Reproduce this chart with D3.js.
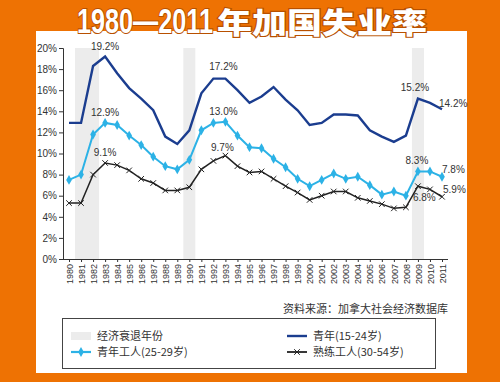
<!DOCTYPE html>
<html><head><meta charset="utf-8">
<script src="https://cdn.jsdelivr.net/npm/d3@7/dist/d3.min.js"></script>
<style>body{margin:0;background:#ee7203;}svg{display:block;}</style>
</head><body>
<svg id="c" width="500" height="382"></svg>
<script>
const years = d3.range(1980, 2012);
const youth = [12.9,12.9,18.3,19.2,17.6,16.2,15.2,14.1,11.6,10.9,12.2,15.7,17.1,17.1,16.0,14.8,15.4,16.3,15.1,14.1,12.7,12.9,13.7,13.7,13.6,12.2,11.6,11.1,11.7,15.2,14.8,14.2];
const young = [7.5,8.0,11.8,12.9,12.7,11.7,10.8,9.7,8.8,8.5,9.4,12.2,12.9,13.0,11.7,10.6,10.5,9.5,8.7,7.6,6.9,7.5,8.1,7.6,7.8,7.0,6.1,6.4,6.0,8.3,8.3,7.8];
const experienced = [5.3,5.3,8.0,9.1,8.9,8.4,7.6,7.2,6.5,6.5,6.8,8.5,9.3,9.8,8.8,8.2,8.3,7.6,6.9,6.3,5.6,6.0,6.4,6.4,5.8,5.5,5.2,4.8,4.9,6.9,6.6,5.9];
const recessions = [[1980.5,1982.5],[1989.5,1990.5],[2008.5,2009.5]];
const yTicks = [0,2,4,6,8,10,12,14,16,18,20];
const titleNum = "1980—2011";
const titleCjk = "年加国失业率";
const source = "资料来源：加拿大社会经济数据库";
const legendItems = ["经济衰退年份","青年(15-24岁)","青年工人(25-29岁)","熟练工人(30-54岁)"];
const annotations = [
  {year:1983, v:19.2, text:"19.2%", dx:0, dy:-6, anchor:"middle"},
  {year:1983, v:12.9, text:"12.9%", dx:0, dy:-7, anchor:"middle"},
  {year:1983, v:9.1, text:"9.1%", dx:0, dy:-7, anchor:"middle"},
  {year:1993, v:17.2, text:"17.2%", dx:-2, dy:-8, anchor:"middle"},
  {year:1993, v:13.0, text:"13.0%", dx:-2, dy:-7, anchor:"middle"},
  {year:1993, v:9.8, text:"9.7%", dx:-3, dy:-5, anchor:"middle"},
  {year:2009, v:15.2, text:"15.2%", dx:-3, dy:-8, anchor:"middle"},
  {year:2011, v:14.2, text:"14.2%", dx:-3, dy:-2, anchor:"start"},
  {year:2009, v:8.3, text:"8.3%", dx:-1, dy:-7, anchor:"middle"},
  {year:2011, v:7.8, text:"7.8%", dx:0, dy:-4, anchor:"start"},
  {year:2011, v:5.9, text:"5.9%", dx:1, dy:-4, anchor:"start"},
  {year:2009, v:6.8, text:"6.8%", dx:-5, dy:14, anchor:"start"}
];

const svg = d3.select("#c");
svg.append("rect").attr("width",500).attr("height",382).attr("fill","#ee7203");
svg.append("rect").attr("x",36).attr("y",31).attr("width",431).attr("height",342).attr("fill","#fff");

function fitText(str, x0, yb, w, fam, weight, size){
  const t = svg.append("text").attr("x",0).attr("y",0)
    .attr("font-family",fam).attr("font-weight",weight).attr("font-size",size)
    .attr("fill","#fff").attr("stroke","#b85000").attr("stroke-width",2.2)
    .attr("paint-order","stroke").text(str);
  const nat = t.node().getComputedTextLength();
  t.attr("transform",`translate(${x0},${yb}) scale(${w/nat},1)`);
}
fitText(titleNum, 77, 32.5, 136, "'Liberation Sans Narrow', 'Liberation Sans', sans-serif", 700, 35);
fitText(titleCjk, 217, 33.5, 210, "'Noto Sans CJK SC', sans-serif", 900, 29);

const x = d3.scaleLinear().domain([1980,2011]).range([69,442]);
const y = d3.scaleLinear().domain([0,20]).range([259,48]);

svg.selectAll("rect.rec").data(recessions).join("rect").attr("class","rec")
  .attr("x",d=>x(d[0])).attr("width",d=>x(d[1])-x(d[0]))
  .attr("y",y(20)).attr("height",y(0)-y(20)).attr("fill","#ececec");

const font = "'Liberation Sans', Arial, sans-serif";
const ya = svg.append("g").attr("transform","translate(63,0)")
  .call(d3.axisLeft(y).tickValues(yTicks).tickFormat(d=>d+"%").tickSize(4).tickPadding(2));
ya.select(".domain").attr("stroke","#333");
ya.selectAll("line").attr("stroke","#333");
ya.selectAll("text").attr("font-family",font).attr("font-size",10).attr("fill","#333");

const xa = svg.append("g").attr("transform","translate(0,259)")
  .call(d3.axisBottom(x).tickValues(years).tickFormat(d=>String(d)).tickSize(3).tickSizeOuter(0));
xa.select(".domain").attr("d","M63,0.5H448").attr("stroke","#333");
xa.selectAll("line").attr("stroke","#333");
xa.selectAll("text").attr("font-family",font).attr("font-size",9).attr("fill","#333")
  .attr("transform","rotate(-90)").attr("text-anchor","end").attr("dy","0.35em").attr("x",-5).attr("y",0);

const line = d3.line().x((d,i)=>x(years[i])).y(d=>y(d));
svg.append("path").datum(youth).attr("d",line).attr("fill","none").attr("stroke","#1b3d8f").attr("stroke-width",2.4);
svg.append("path").datum(young).attr("d",line).attr("fill","none").attr("stroke","#2cb2e6").attr("stroke-width",2);
svg.append("path").datum(experienced).attr("d",line).attr("fill","none").attr("stroke","#222").attr("stroke-width",1.5);

const diamond = d3.symbol().type(d3.symbolDiamond).size(28);
svg.selectAll("path.dm").data(young).join("path").attr("class","dm")
  .attr("transform",(d,i)=>`translate(${x(years[i])},${y(d)})`).attr("d",diamond()).attr("fill","#2cb2e6");
const cross = d3.symbol().type(d3.symbolTimes).size(22);
svg.selectAll("path.xm").data(experienced).join("path").attr("class","xm")
  .attr("transform",(d,i)=>`translate(${x(years[i])},${y(d)})`).attr("d",cross()).attr("fill","none").attr("stroke","#222").attr("stroke-width",1);

svg.selectAll("text.ann").data(annotations).join("text").attr("class","ann")
  .attr("x",d=>x(d.year)+d.dx).attr("y",d=>y(d.v)+d.dy).attr("text-anchor",d=>d.anchor)
  .attr("font-family",font).attr("font-size",10).attr("fill","#333").text(d=>d.text);

svg.append("text").attr("x",448).attr("y",313).attr("text-anchor","end")
  .attr("font-family","'Noto Sans CJK SC', sans-serif").attr("font-size",11).attr("fill","#333").text(source);

// legend
svg.append("rect").attr("x",62.5).attr("y",318.5).attr("width",373).attr("height",50).attr("fill","#fff").attr("stroke","#444").attr("stroke-width",1);
const lg = [
  {x:71, y:336, type:"rec", label:legendItems[0]},
  {x:287, y:336, type:"youth", label:legendItems[1]},
  {x:71, y:352, type:"young", label:legendItems[2]},
  {x:287, y:352, type:"exp", label:legendItems[3]}
];
lg.forEach(d=>{
  const g = svg.append("g");
  if(d.type==="rec") g.append("rect").attr("x",d.x).attr("y",d.y-4).attr("width",20).attr("height",8).attr("fill","#ececec");
  if(d.type==="youth") g.append("line").attr("x1",d.x).attr("x2",d.x+20).attr("y1",d.y).attr("y2",d.y).attr("stroke","#1b3d8f").attr("stroke-width",2.4);
  if(d.type==="young"){ g.append("line").attr("x1",d.x).attr("x2",d.x+20).attr("y1",d.y).attr("y2",d.y).attr("stroke","#2cb2e6").attr("stroke-width",2.2);
    g.append("path").attr("transform",`translate(${d.x+10},${d.y})`).attr("d",diamond()).attr("fill","#2cb2e6"); }
  if(d.type==="exp"){ g.append("line").attr("x1",d.x).attr("x2",d.x+20).attr("y1",d.y).attr("y2",d.y).attr("stroke","#222").attr("stroke-width",1.8);
    g.append("path").attr("transform",`translate(${d.x+10},${d.y})`).attr("d",cross()).attr("fill","none").attr("stroke","#222"); }
  g.append("text").attr("x",d.x+26).attr("y",d.y).attr("dy","0.35em")
    .attr("font-family","'Noto Sans CJK SC', sans-serif").attr("font-size",11).attr("fill","#333").text(d.label);
});
</script>
</body></html>
